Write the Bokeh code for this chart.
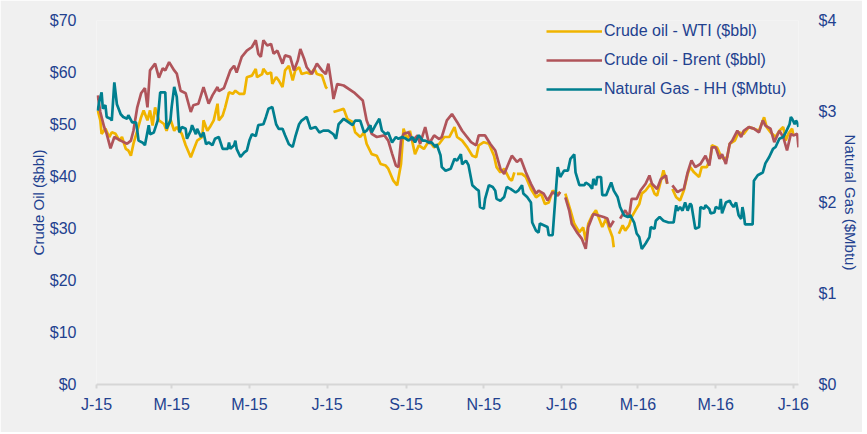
import pandas as pd
from bokeh.plotting import figure
from bokeh.models import (Range1d, LinearAxis, FixedTicker, NumeralTickFormatter,
                          Legend, LegendItem)
from bokeh.embed import file_html
from bokeh.resources import INLINE

NA = float("nan")

# ---- data (days since 2015-01-01) ----
wti_day = [1, 3, 4, 7, 10, 12, 15, 18, 20, 23, 25, 27, 29, 32, 35, 37, 40, 42, 44, 46, 49, 53, 55, 58, 61, 63,
           67, 70, 74, 76, 79, 83, 84, 87, 89, 92, 95, 96, 99, 101, 104, 107, 109, 112, 116, 118, 122, 125, 126,
           130, 131, 134, 137, 138, 141, 143, 146, 148, 151, 154, 156, 159, 161, 165, 168, 171, 173, 177, 180,
           181, 183, 186, 190, 194, 197, 201, 203, 207, 210, 212, 216, 220, 223, 227, 229, 233, 236, 239, 241,
           244, 246, 250, 253, 257, 261, 265, 269, 273, 277, 281, 283, 287, 291, 295, 298, 300, 304, 308, 312,
           314, 317, 320, 324, 326, 328, 329, 330, 334, 337, 341, 345, 349, 352, 355, 358, 362, 364, 366, 368,
           372, 375, 379, 382, 384, 386, 389, 392, 394, 397, 400, 402, 405, 406, 408, 410, 413, 415, 418, 420,
           423, 426, 428, 431, 435, 438, 440, 443, 445, 448, 450, 452, 455, 458, 461, 464, 466, 469, 473, 475,
           479, 482, 483, 487, 490, 492, 495, 497, 501, 504, 508, 512, 516, 520, 524, 526, 529, 533, 536, 539,
           541, 543, 546, 547]
wti_price = [52.7, 50.8, 48.2, 49.2, 47.6, 48.5, 48.2, 46.9, 47.6, 45.3, 45.0, 44.0, 46.3, 48.8, 51.4, 52.7,
             50.8, 52.7, 49.8, 53.3, 50.8, 50.1, 48.8, 51.0, 48.8, 49.5, 48.2, 46.0, 43.7, 45.0, 46.9, 47.6,
             50.8, 48.8, 49.5, 50.8, 54.0, 50.8, 51.7, 53.3, 56.2, 55.9, 56.5, 55.9, 55.9, 59.1, 59.4, 60.7,
             59.1, 59.7, 60.7, 59.7, 60.0, 57.8, 59.1, 58.5, 57.2, 60.4, 61.3, 58.5, 60.4, 61.0, 59.7, 60.0,
             59.7, 60.7, 59.7, 59.4, 57.2, 56.9, NA, 52.4, 52.7, 53.0, 51.0, 50.5, 48.5, 47.6, 48.5, 46.3, 44.3,
             44.0, 42.4, 42.1, 41.5, 39.2, 38.3, 42.4, 49.2, 46.9, 48.8, 44.3, 46.0, 45.3, 46.9, 45.6, 46.3,
             47.6, 47.6, 49.5, 47.6, 46.9, 45.6, 44.0, 43.7, 46.0, 46.6, 46.3, 44.0, 41.8, 40.8, 41.5, 39.6,
             39.2, 40.8, NA, 40.5, 40.5, 39.9, 37.6, 36.0, 36.7, 34.7, 35.0, 37.3, 36.7, 37.0, NA, 36.7, 33.5,
             30.9, 29.3, 30.2, 27.7, 30.9, 32.5, 33.5, 32.2, 30.3, 31.9, 30.3, 28.3, 26.4, NA, 29.0, 30.6,
             29.6, 30.6, 32.2, 33.5, 34.7, 36.7, 37.3, 38.6, 36.7, 36.3, 39.2, 41.2, 38.6, NA, 37.6, 36.0,
             35.4, 37.3, 40.5, 41.8, 40.8, 39.9, 41.8, 41.8, 43.7, 46.0, 45.6, 44.0, 43.4, 43.7, 46.3, 46.9,
             48.5, 48.2, 49.5, 49.2, 48.8, 51.4, 49.5, 48.5, 47.6, 48.8, 49.5, 46.9, 48.2, 49.2, 47.9]

brent_day = [1, 3, 6, 8, 11, 14, 19, 24, 27, 29, 32, 35, 38, 40, 42, 46, 49, 52, 54, 57, 61, 63, 66, 70, 74,
             76, 80, 84, 88, 91, 95, 96, 100, 105, 108, 110, 114, 118, 122, 125, 127, 129, 131, 134, 137, 139,
             142, 146, 148, 152, 155, 158, 160, 163, 165, 169, 173, 177, 180, 182, 185, 186, 189, 194, 202,
             209, 212, 216, 220, 226, 229, 232, 235, 237, 239, 241, 245, 248, 252, 254, 258, 261, 265, 269,
             271, 275, 279, 283, 287, 294, 298, 300, 305, 309, 313, 317, 320, 326, 330, 333, 337, 341, 345,
             347, 351, 354, 358, 362, 364, 366, 368, 371, 373, 377, 381, 384, 386, 390, 394, 398, 401, 403,
             406, 408, 411, 415, 418, 420, 424, 427, 431, 434, 436, 440, 443, 447, 448, 450, 452, 456, 458,
             461, 464, 467, 470, 474, 478, 481, 483, 486, 489, 491, 494, 497, 499, 503, 506, 508, 512, 516,
             520, 523, 525, 529, 532, 536, 539, 542, 545, 547, 550, 551]
brent_price = [55.6, 52.4, 49.5, 48.2, 45.4, 47.6, 46.9, 46.3, 46.9, 48.8, 53.3, 56.0, 57.0, 53.3, 60.4,
               61.7, 59.0, 60.8, 60.4, 62.0, 60.4, 59.8, 56.5, 56.0, 52.4, 53.7, 54.0, 57.2, 54.0, 55.6,
               57.2, 56.4, 57.0, 60.4, 61.3, 60.0, 63.0, 64.2, 64.9, 66.2, 63.6, 63.0, 66.2, 65.2, 65.5,
               63.6, 64.2, 61.7, 63.3, 63.0, 60.4, 62.3, 64.5, 62.6, 61.0, 59.7, 61.7, 60.4, 59.7, 61.7,
               56.9, 54.9, 57.8, 57.5, 56.2, 54.6, 50.8, 48.2, 47.6, 47.9, 46.9, 44.4, 42.1, 41.8, 46.9,
               48.2, 48.5, 46.9, 47.9, 46.3, 49.5, 46.3, 47.9, 47.2, 47.6, 50.8, 52.0, 50.5, 48.8, 46.6,
               46.0, 47.9, 47.9, 46.3, 45.0, 41.5, 40.5, 44.0, 42.8, 43.4, 40.8, 38.6, 36.7, 37.3, 36.7,
               35.4, 37.0, 36.3, 37.0, NA, 36.0, 33.5, 30.9, 29.3, 28.0, 26.1, 30.3, 32.8, 32.5, 32.2, 31.9,
               30.3, 31.5, NA, 31.9, 33.5, 32.2, 35.7, 35.7, 37.3, 38.6, 40.2, 38.6, 37.6, 39.5, 40.2, 38.6,
               NA, 38.3, 37.0, 37.3, 37.6, 40.8, 43.1, 41.8, 42.4, 44.0, 42.1, 45.6, 45.6, 43.4, 44.3, 42.4,
               46.3, 46.9, 48.8, 47.6, 48.8, 49.5, 49.2, 48.5, 50.8, 49.8, 49.2, 46.6, 48.8, 47.6, 45.0,
               48.2, 47.9, 48.2, 45.6]

gas_day = [1, 2, 4, 5, 7, 8, 11, 12, 14, 16, 19, 21, 24, 25, 28, 31, 32, 33, 36, 38, 41, 42, 45, 48, 50, 54,
           55, 58, 59, 61, 63, 65, 67, 70, 71, 74, 75, 78, 79, 82, 84, 86, 88, 91, 93, 96, 99, 103, 104, 105,
           108, 109, 110, 113, 116, 118, 120, 122, 125, 127, 131, 133, 135, 138, 141, 143, 146, 148, 151, 154,
           156, 159, 161, 165, 168, 172, 175, 178, 182, 186, 188, 190, 194, 198, 201, 203, 207, 210, 212, 215,
           216, 219, 222, 224, 227, 229, 232, 235, 237, 240, 243, 245, 248, 250, 253, 256, 258, 261, 263, 266,
           267, 270, 271, 274, 278, 281, 283, 286, 287, 290, 292, 295, 298, 300, 301, 304, 305, 308, 311, 313,
           314, 317, 320, 322, 325, 329, 331, 334, 335, 338, 341, 342, 345, 347, 348, 351, 354, 355, 358, 360,
           362, 364, 367, 370, 372, 375, 376, 379, 383, 384, 387, 389, 390, 392, 393, 396, 397, 400, 402, 404,
           406, 409, 411, 414, 417, 419, 422, 424, 426, 428, 431, 434, 435, 438, 439, 442, 445, 449, 453, 455,
           456, 458, 460, 462, 464, 466, 467, 470, 473, 474, 477, 478, 481, 482, 485, 486, 489, 490, 491, 494,
           497, 498, 500, 502, 504, 506, 507, 508, 509, 515, 516, 519, 523, 525, 528, 531, 533, 536, 539, 541,
           544, 545, 546, 548, 549, 550, 551]
gas_price = [3.01, 3.10, 3.21, 3.03, 3.07, 2.94, 2.92, 2.90, 3.32, 3.08, 2.97, 2.94, 2.92, 2.96, 2.88, 2.88,
             2.79, 2.68, 2.66, 2.63, 2.85, 2.75, 2.77, 2.90, 3.21, 3.21, 2.81, 2.90, 3.05, 3.27, 3.16, 2.77,
             2.83, 2.81, 2.70, 2.79, 2.85, 2.75, 2.81, 2.72, 2.77, 2.64, 2.66, 2.63, 2.70, 2.72, 2.59, 2.59,
             2.66, 2.59, 2.63, 2.68, 2.59, 2.50, 2.55, 2.57, 2.68, 2.75, 2.73, 2.85, 2.86, 2.94, 3.03, 3.05,
             2.86, 2.81, 2.81, 2.74, 2.64, 2.61, 2.72, 2.86, 2.90, 2.94, 2.81, 2.83, 2.77, 2.79, 2.79, 2.75,
             2.70, 2.86, 2.92, 2.88, 2.85, 2.90, 2.90, 2.77, 2.79, 2.85, 2.77, 2.85, 2.92, 2.79, 2.75, 2.77,
             2.66, 2.72, 2.70, 2.72, 2.70, 2.68, 2.72, 2.66, 2.74, 2.68, 2.68, 2.66, 2.66, 2.61, 2.64, 2.52,
             2.39, 2.35, 2.37, 2.48, 2.46, 2.53, 2.42, 2.46, 2.41, 2.19, 2.15, 2.13, 1.95, 1.93, 2.04, 2.19,
             2.17, 2.13, 2.04, 2.02, 2.06, 2.17, 2.15, 2.11, 2.13, 2.19, 2.10, 2.06, 2.00, 1.78, 1.69, 1.67,
             1.77, 1.75, 1.73, 1.64, 1.64, 2.02, 2.39, 2.28, 2.35, 2.35, 2.48, 2.53, 2.33, 2.19, 2.19, 2.22,
             2.19, 2.15, 2.26, 2.19, 2.28, 2.28, 2.08, 2.08, 2.15, 2.22, 2.13, 2.06, 1.95, 1.86, 1.84, 1.86,
             1.78, 1.66, 1.62, 1.49, 1.55, 1.62, 1.73, 1.71, 1.80, 1.84, 1.80, 1.78, 1.78, 1.97, 1.91, 1.95,
             1.91, 2.00, 1.91, 1.99, 1.97, 1.71, 1.73, 1.95, 1.93, 1.97, 1.93, 1.88, 1.89, 1.95, 1.93, 2.04,
             1.88, 2.00, 2.02, 1.99, 1.95, 2.00, 1.86, 1.82, 1.95, 1.88, 1.76, 1.76, 2.24, 2.30, 2.33, 2.43,
             2.50, 2.59, 2.61, 2.70, 2.72, 2.77, 2.86, 2.94, 2.92, 2.86, 2.90, 2.88, 2.83]

tick_dates = ["2015-01-01", "2015-03-01", "2015-05-01", "2015-07-01", "2015-09-01", "2015-11-01",
              "2016-01-01", "2016-03-01", "2016-05-01", "2016-07-01"]
tick_labels = ["J-15", "M-15", "M-15", "J-15", "S-15", "N-15", "J-16", "M-16", "M-16", "J-16"]
oil_ticks = [0, 10, 20, 30, 40, 50, 60, 70]
gas_ticks = [0, 1, 2, 3, 4]

series_names = ["Crude oil - WTI ($bbl)", "Crude oil - Brent ($bbl)", "Natural Gas - HH ($Mbtu)"]
colors = ["#f0b400", "#b0545a", "#007f8f"]

# ---- figure ----
start = pd.Timestamp("2015-01-01")
tick_days = [int((pd.Timestamp(d) - start).days) for d in tick_dates]

BG = "#f0f0f0"
TXT = "#22418f"
FONT = "Liberation Sans"

p = figure(width=862, height=432, x_range=Range1d(0, 551), y_range=Range1d(0, 70),
           output_backend="svg", toolbar_location=None,
           min_border_left=96, min_border_right=64, min_border_top=20, min_border_bottom=48)
p.extra_y_ranges = {"gas": Range1d(0, 4)}
p.background_fill_color = BG
p.border_fill_color = BG
p.outline_line_color = None
p.xgrid.grid_line_color = None
p.ygrid.grid_line_color = None

r1 = p.line(wti_day, wti_price, color=colors[0], line_width=2.7)
r2 = p.line(brent_day, brent_price, color=colors[1], line_width=2.7)
r3 = p.line(gas_day, gas_price, color=colors[2], line_width=2.7, y_range_name="gas")

# x axis
xa = p.xaxis[0]
xa.ticker = FixedTicker(ticks=tick_days)
xa.major_label_overrides = {d: lab for d, lab in zip(tick_days, tick_labels)}
xa.minor_tick_line_color = None
xa.axis_line_color = "#d6d6d6"
xa.axis_line_width = 2
xa.major_tick_line_color = "#d6d6d6"
xa.major_tick_line_width = 2
xa.major_tick_in = 0
xa.major_tick_out = 4
xa.major_label_standoff = 7
xa.major_label_text_font = FONT
xa.major_label_text_font_size = "16px"
xa.major_label_text_color = TXT

# left axis
ya = p.yaxis[0]
ya.ticker = FixedTicker(ticks=oil_ticks)
ya.formatter = NumeralTickFormatter(format="$0")
ya.axis_line_color = None
ya.major_tick_line_color = None
ya.minor_tick_line_color = None
ya.major_label_standoff = 14
ya.major_label_text_font = FONT
ya.major_label_text_font_size = "16px"
ya.major_label_text_color = TXT
ya.axis_label = "Crude Oil ($bbl)"
ya.axis_label_text_font = FONT
ya.axis_label_text_font_size = "15px"
ya.axis_label_text_font_style = "normal"
ya.axis_label_text_color = TXT
ya.axis_label_standoff = 0

# right axis
ra = LinearAxis(y_range_name="gas", ticker=FixedTicker(ticks=gas_ticks),
                formatter=NumeralTickFormatter(format="$0"))
ra.axis_line_color = None
ra.major_tick_line_color = None
ra.minor_tick_line_color = None
ra.major_label_standoff = 14
ra.major_label_text_font = FONT
ra.major_label_text_font_size = "16px"
ra.major_label_text_color = TXT
ra.axis_label = "Natural Gas ($Mbtu)"
ra.axis_label_text_font = FONT
ra.axis_label_text_font_size = "15px"
ra.axis_label_text_font_style = "normal"
ra.axis_label_text_color = TXT
ra.axis_label_standoff = 3
p.add_layout(ra, "right")

legend = Legend(items=[LegendItem(label=series_names[0], renderers=[r1]),
                       LegendItem(label=series_names[1], renderers=[r2]),
                       LegendItem(label=series_names[2], renderers=[r3])],
                location=(450, 286), orientation="vertical")
legend.border_line_color = None
legend.background_fill_alpha = 0
legend.padding = 0
legend.margin = 0
legend.spacing = 11
legend.glyph_width = 56
legend.glyph_height = 18
legend.label_height = 18
legend.label_standoff = 2
legend.label_text_font = FONT
legend.label_text_font_size = "16px"
legend.label_text_color = TXT
p.add_layout(legend)

open("out.html", "w").write(file_html(p, INLINE))
